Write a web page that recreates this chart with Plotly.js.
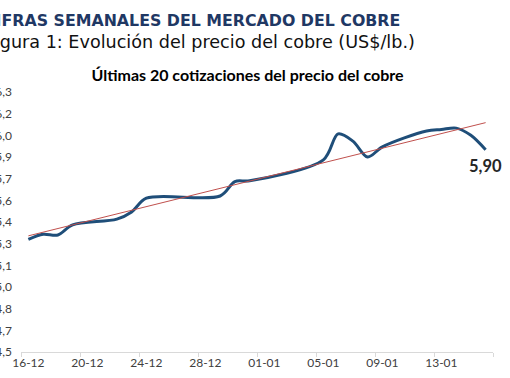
<!DOCTYPE html>
<html>
<head>
<meta charset="utf-8">
<script src="https://cdn.plot.ly/plotly-3.0.1.min.js"></script>
<style>
html,body{margin:0;padding:0;overflow:hidden;background:#fff;width:510px;height:378px;}
#chart{position:absolute;left:-40px;top:0;width:550px;height:378px;}
</style>
</head>
<body>
<div id="chart"></div>
<script>
// Data
const dates = ['2025-12-16','2025-12-17','2025-12-18','2025-12-19','2025-12-22','2025-12-23','2025-12-24',
  '2025-12-29','2025-12-30','2025-12-31','2026-01-05','2026-01-06','2026-01-07','2026-01-08','2026-01-09',
  '2026-01-12','2026-01-13','2026-01-14','2026-01-15','2026-01-16'];
const prices = [5.28,5.315,5.31,5.38,5.42,5.47,5.565,5.58,5.68,5.685,5.83,6.01,5.96,5.85,5.92,6.03,6.04,6.05,6.00,5.90];
const xTickVals = ['2025-12-16','2025-12-20','2025-12-24','2025-12-28','2026-01-01','2026-01-05','2026-01-09','2026-01-13'];
const xTickText = ['16-12','20-12','24-12','28-12','01-01','05-01','09-01','13-01'];
const xTickMarks = ['2025-12-15 12:00','2025-12-19 12:00','2025-12-23 12:00','2025-12-27 12:00','2025-12-31 12:00',
  '2026-01-04 12:00','2026-01-08 12:00','2026-01-12 12:00','2026-01-16 12:00'];
const yTickVals = [4.5,4.65,4.8,4.95,5.1,5.25,5.4,5.55,5.7,5.85,6.0,6.15,6.3];
const yTickText = ['4,5','4,7','4,8','5,0','5,1','5,3','5,4','5,6','5,7','5,9','6,0','6,2','6,3'];
const header1 = 'CIFRAS SEMANALES DEL MERCADO DEL COBRE';
const header2 = 'Figura 1: Evolución del precio del cobre (US$/lb.)';
const chartTitle = 'Últimas 20 cotizaciones del precio del cobre';

// Linear trend (least squares on day numbers), as Excel's trendline
const days = dates.map(d => new Date(d + 'T00:00:00Z').getTime() / 86400000);
const n = days.length;
const mx = days.reduce((a,b)=>a+b,0)/n, my = prices.reduce((a,b)=>a+b,0)/n;
let sxy = 0, sxx = 0;
for (let i=0;i<n;i++){ sxy += (days[i]-mx)*(prices[i]-my); sxx += (days[i]-mx)*(days[i]-mx); }
const slope = sxy/sxx, icpt = my - slope*mx;
const trendX = [dates[0], dates[n-1]];
const trendY = [icpt + slope*days[0], icpt + slope*days[n-1]];

const lastLabel = prices[n-1].toFixed(2).replace('.', ',');

const traces = [
  {x: dates, y: prices, type:'scatter', mode:'lines', line:{color:'#1f4e79', width:3, shape:'spline', smoothing:0.9}, hoverinfo:'skip'},
  {x: trendX, y: trendY, type:'scatter', mode:'lines', line:{color:'#c0504d', width:1}, hoverinfo:'skip'},
  {x: xTickMarks, y: xTickMarks.map(()=>4.5), xaxis:'x2', type:'scatter', mode:'markers', marker:{opacity:0}, hoverinfo:'skip'}
];

const layout = {
  width:550, height:378,
  margin:{l:61, r:17, t:92, b:26},
  paper_bgcolor:'#fff', plot_bgcolor:'#fff',
  showlegend:false,
  font:{family:'Lato, sans-serif', color:'#595959', size:12},
  title:{text:chartTitle, x:(247.5+40-61)/472, xref:'paper', xanchor:'center', y:1-75/378, yref:'container', yanchor:'middle',
    font:{family:'Lato, sans-serif', size:16, color:'#000', weight:'bold'}},
  xaxis:{type:'date', range:['2025-12-15 12:00','2026-01-16 12:00'], tickmode:'array', tickvals:xTickVals, ticktext:xTickText,
    showgrid:false, zeroline:false, showline:true, linecolor:'#d9d9d9', linewidth:1, ticks:'', fixedrange:true,
    tickfont:{size:12, color:'#404040'}},
  xaxis2:{type:'date', overlaying:'x', matches:'x', range:['2025-12-15 12:00','2026-01-16 12:00'], tickmode:'array', tickvals:xTickMarks,
    showticklabels:false, ticks:'outside', ticklen:4, tickcolor:'#d9d9d9', showgrid:false, zeroline:false, showline:false},
  yaxis:{range:[4.5,6.3], tickmode:'array', tickvals:yTickVals, ticktext:yTickText, showgrid:false, zeroline:false,
    showline:false, ticks:'', ticklabelstandoff:8, tickfont:{size:12, color:'#404040'}, fixedrange:true},
  annotations:[
    {text:header1, xref:'paper', yref:'paper', x:(402+40-61)/472, y:(352-20)/260, xanchor:'right', yanchor:'middle', showarrow:false,
      font:{family:'DejaVu Sans, Verdana, sans-serif', size:15.8, color:'#1f3864', weight:'bold'}},
    {text:header2, xref:'paper', yref:'paper', x:(417+40-61)/472, y:(352-42)/260, xanchor:'right', yanchor:'middle', showarrow:false,
      font:{family:'DejaVu Sans, Verdana, sans-serif', size:17.6, color:'#111'}},
    {text:lastLabel, x:dates[n-1], y:prices[n-1], xref:'x', yref:'y', showarrow:false, yshift:-16, xanchor:'center', yanchor:'middle',
      font:{family:'Lato, sans-serif', size:16.5, color:'#262626', weight:'bold'}}
  ]
};
Plotly.newPlot('chart', traces, layout, {staticPlot:true, displayModeBar:false});
</script>
</body>
</html>
